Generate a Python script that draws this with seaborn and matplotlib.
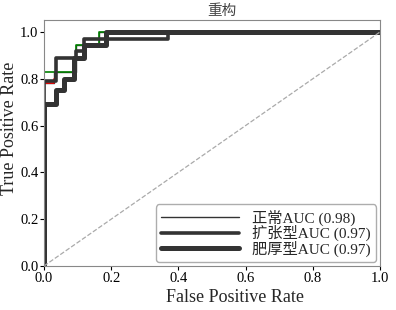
import pandas as pd
import matplotlib
matplotlib.use('Agg')
import matplotlib.pyplot as plt
import seaborn as sns

# ROC points (step curves)
fpr_blue = [0.0, 0.0, 0.035]
tpr_blue = [0.0, 0.69, 0.69]
fpr_red = [0.0, 0.0, 0.03, 0.03]
tpr_red = [0.0, 0.78, 0.78, 0.80]
fpr_green = [0.0, 0.0, 0.095, 0.095, 0.165, 0.165, 1.0]
tpr_green = [0.0, 0.83, 0.83, 0.945, 0.945, 1.0, 1.0]

fpr_normal = [0.0, 0.0, 0.03, 0.03, 0.095, 0.095, 0.165, 0.165, 1.0]
tpr_normal = [0.0, 0.78, 0.78, 0.83, 0.83, 0.945, 0.945, 1.0, 1.0]
fpr_dilated = [0.0, 0.0, 0.035, 0.035, 0.095, 0.095, 0.12, 0.12, 0.37, 0.37, 1.0]
tpr_dilated = [0.0, 0.79, 0.79, 0.89, 0.89, 0.92, 0.92, 0.97, 0.97, 1.0, 1.0]
fpr_hyper = [0.0, 0.0, 0.035, 0.035, 0.06, 0.06, 0.09, 0.09, 0.12, 0.12, 0.185, 0.185, 1.0]
tpr_hyper = [0.0, 0.69, 0.69, 0.75, 0.75, 0.80, 0.80, 0.89, 0.89, 0.945, 0.945, 1.0, 1.0]

labels = ['正常AUC (0.98)', '扩张型AUC (0.97)', '肥厚型AUC (0.97)']

sns.set_style('white')
plt.rcParams['font.family'] = ['Liberation Serif', 'Noto Sans CJK SC', 'DejaVu Sans']
plt.rcParams['axes.unicode_minus'] = False

fig = plt.figure(figsize=(3.96, 3.10), dpi=100)
ax = fig.add_axes([0.111, 0.142, 0.849, 0.793])

# thin black curve first, coloured ones over it
sns.lineplot(x=fpr_normal, y=tpr_normal, color='#333333', lw=1.0, sort=False,
             estimator=None, ax=ax, label=labels[0])
for x, y, c in [(fpr_blue, tpr_blue, 'blue'), (fpr_red, tpr_red, 'red'), (fpr_green, tpr_green, 'green')]:
    sns.lineplot(x=x, y=y, color=c, lw=1.2, sort=False, estimator=None, ax=ax)

# thick black curves on top
for x, y, lw, lab in [(fpr_dilated, tpr_dilated, 2.6, labels[1]),
                      (fpr_hyper, tpr_hyper, 3.6, labels[2])]:
    sns.lineplot(x=x, y=y, color='#333333', lw=lw, sort=False, estimator=None, ax=ax, label=lab)

ax.plot([0, 1], [0, 1], ls='--', color='#aaaaaa', lw=0.9)

ax.set_xlim(0, 1)
ax.set_ylim(0, 1.05)
ax.set_xticks([0, 0.2, 0.4, 0.6, 0.8, 1.0])
ax.set_yticks([0, 0.2, 0.4, 0.6, 0.8, 1.0])
ax.tick_params(labelsize=10.5, length=3, pad=1, direction='out', bottom=True, left=True, colors='black')
for s in ax.spines.values():
    s.set_color('#888888')
ax.set_xlabel('False Positive Rate', fontsize=13)
ax.set_ylabel('True Positive Rate', fontsize=13)
ax.xaxis.set_label_coords(0.568, -0.095)
ax.yaxis.set_label_coords(-0.078, 0.561)
ax.set_title('重构', fontsize=10.5, color='#444444', x=0.53, pad=4)

ax.legend(loc='lower right', fontsize=11, handlelength=5.1, frameon=True,
          fancybox=True, edgecolor='#999999', labelspacing=-0.05, borderaxespad=0.25,
          borderpad=0.35, handletextpad=0.85)

fig.savefig('out.png', dpi=100)
